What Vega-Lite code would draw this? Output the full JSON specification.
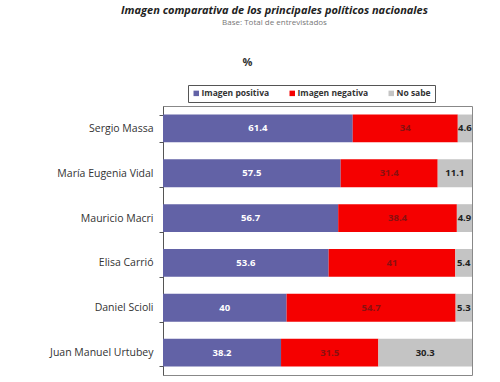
{
  "$schema": "https://vega.github.io/schema/vega-lite/v6.json",
  "width": 309,
  "height": 269,
  "autosize": {"type": "none"},
  "padding": {"left": 163, "top": 106, "right": 28, "bottom": 7},
  "background": "white",
  "title": {
    "text": "Imagen comparativa de los principales políticos nacionales",
    "subtitle": "Base: Total de entrevistados",
    "anchor": "middle",
    "frame": "group",
    "dx": -43,
    "offset": 29,
    "font": "Open Sans",
    "fontSize": 11,
    "fontStyle": "italic",
    "fontWeight": "bold",
    "color": "#222",
    "subtitleFont": "Open Sans",
    "subtitleFontSize": 8,
    "subtitleColor": "#777",
    "subtitlePadding": 3
  },
  "data": {
    "values": [
      {"name": "Sergio Massa", "cat": "Imagen positiva", "ord": 1, "value": 61.4},
      {"name": "Sergio Massa", "cat": "Imagen negativa", "ord": 2, "value": 34},
      {"name": "Sergio Massa", "cat": "No sabe", "ord": 3, "value": 4.6},
      {"name": "María Eugenia Vidal", "cat": "Imagen positiva", "ord": 1, "value": 57.5},
      {"name": "María Eugenia Vidal", "cat": "Imagen negativa", "ord": 2, "value": 31.4},
      {"name": "María Eugenia Vidal", "cat": "No sabe", "ord": 3, "value": 11.1},
      {"name": "Mauricio Macri", "cat": "Imagen positiva", "ord": 1, "value": 56.7},
      {"name": "Mauricio Macri", "cat": "Imagen negativa", "ord": 2, "value": 38.4},
      {"name": "Mauricio Macri", "cat": "No sabe", "ord": 3, "value": 4.9},
      {"name": "Elisa Carrió", "cat": "Imagen positiva", "ord": 1, "value": 53.6},
      {"name": "Elisa Carrió", "cat": "Imagen negativa", "ord": 2, "value": 41},
      {"name": "Elisa Carrió", "cat": "No sabe", "ord": 3, "value": 5.4},
      {"name": "Daniel Scioli", "cat": "Imagen positiva", "ord": 1, "value": 40},
      {"name": "Daniel Scioli", "cat": "Imagen negativa", "ord": 2, "value": 54.7},
      {"name": "Daniel Scioli", "cat": "No sabe", "ord": 3, "value": 5.3},
      {"name": "Juan Manuel Urtubey", "cat": "Imagen positiva", "ord": 1, "value": 38.2},
      {"name": "Juan Manuel Urtubey", "cat": "Imagen negativa", "ord": 2, "value": 31.5},
      {"name": "Juan Manuel Urtubey", "cat": "No sabe", "ord": 3, "value": 30.3}
    ]
  },
  "transform": [
    {"stack": "value", "groupby": ["name"], "sort": [{"field": "ord"}], "as": ["x0", "x1"]},
    {"calculate": "(datum.x0 + datum.x1) / 2", "as": "mid"}
  ],
  "encoding": {
    "y": {
      "field": "name",
      "type": "nominal",
      "sort": ["Sergio Massa", "María Eugenia Vidal", "Mauricio Macri", "Elisa Carrió", "Daniel Scioli", "Juan Manuel Urtubey"],
      "scale": {"paddingInner": 0.38, "paddingOuter": 0.19},
      "axis": {
        "title": null,
        "labelFont": "Open Sans",
        "labelFontSize": 10.5,
        "labelColor": "#333",
        "labelPadding": 6,
        "tickBand": "extent",
        "tickSize": 4,
        "tickColor": "#555",
        "domainColor": "#555"
      }
    }
  },
  "layer": [
    {
      "mark": {"type": "bar"},
      "encoding": {
        "x": {
          "field": "x0",
          "type": "quantitative",
          "scale": {"domain": [0, 100], "nice": false},
          "axis": {
            "orient": "top",
            "title": "%",
            "labels": false,
            "ticks": false,
            "domain": false,
            "grid": false,
            "titleFont": "Open Sans",
            "titleFontSize": 11,
            "titleFontWeight": "bold",
            "titleColor": "#333",
            "titleX": 84,
            "titleY": -44,
            "titleBaseline": "middle"
          }
        },
        "x2": {"field": "x1"},
        "color": {
          "field": "cat",
          "type": "nominal",
          "sort": ["Imagen positiva", "Imagen negativa", "No sabe"],
          "scale": {"domain": ["Imagen positiva", "Imagen negativa", "No sabe"], "range": ["#6262a6", "#f50000", "#c4c4c4"]},
          "legend": {
            "title": null,
            "orient": "none",
            "direction": "horizontal",
            "legendX": 25,
            "legendY": -21,
            "symbolType": "square",
            "symbolSize": 30,
            "symbolStrokeWidth": 0,
            "labelFont": "Open Sans",
            "labelFontSize": 8.5,
            "labelFontWeight": "bold",
            "labelColor": "#333",
            "labelOffset": 1,
            "columnPadding": 18,
            "padding": 4,
            "strokeColor": "#555",
            "fillColor": "white"
          }
        }
      }
    },
    {
      "mark": {"type": "text", "font": "Open Sans", "fontSize": 9.5, "fontWeight": "bold", "baseline": "middle", "align": "center"},
      "encoding": {
        "x": {"field": "mid", "type": "quantitative"},
        "text": {"field": "value", "type": "quantitative"},
        "color": {
          "condition": [
            {"test": "datum.cat === 'Imagen positiva'", "value": "#ffffff"},
            {"test": "datum.cat === 'Imagen negativa'", "value": "#8a1010"}
          ],
          "value": "#222222"
        }
      }
    }
  ],
  "config": {
    "view": {"stroke": "#888", "strokeWidth": 1}
  }
}
